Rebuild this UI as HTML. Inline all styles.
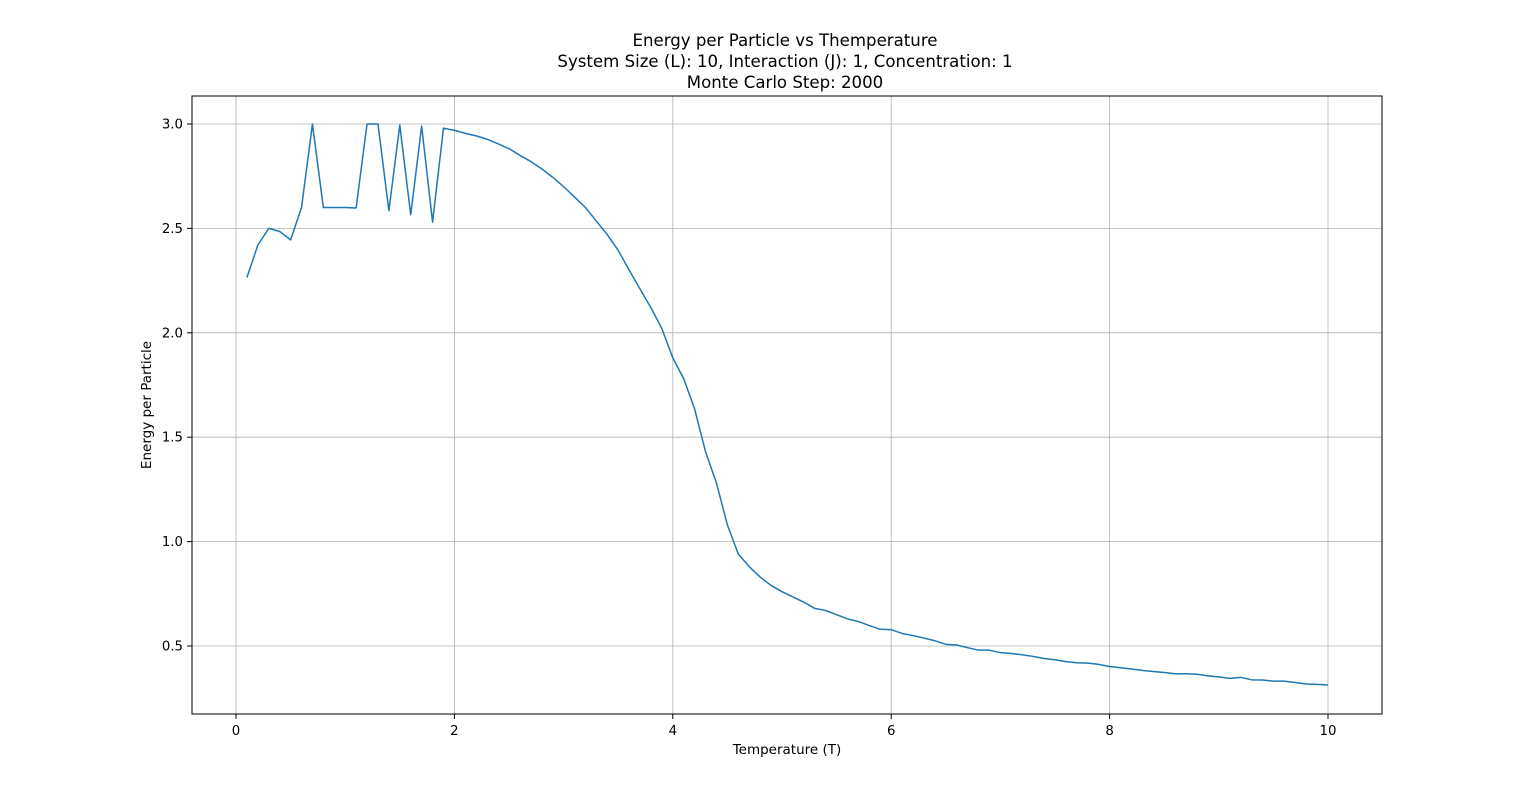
<!DOCTYPE html>
<html><head><meta charset="utf-8"><style>
body{margin:0;background:#fff;}
svg{display:block;font-family:"DejaVu Sans","Liberation Sans",sans-serif;}
</style></head><body>
<svg id="chart" width="1536" height="802" viewBox="0 0 1536 802">
<rect width="1536" height="802" fill="#fff"/>
<g id="title" font-size="16.6" text-anchor="middle" fill="#000">
<text x="785" y="46">Energy per Particle vs Themperature</text>
<text x="785" y="67">System Size (L): 10, Interaction (J): 1, Concentration: 1</text>
<text x="785" y="88">Monte Carlo Step: 2000</text>
</g>
<g id="grid"></g>
<g id="xticks" font-size="13.3" text-anchor="middle"></g>
<g id="yticks" font-size="13.3" text-anchor="end"></g>
<path id="line" fill="none" stroke="#1f77b4" stroke-width="1.5" stroke-linejoin="round"/>
<rect x="192" y="96" width="1190" height="618" fill="none" stroke="#000" stroke-width="1"/>
<text x="787" y="754" font-size="13.5" text-anchor="middle">Temperature (T)</text>
<text transform="translate(151,405) rotate(-90)" font-size="13.5" text-anchor="middle">Energy per Particle</text>
</svg>
<script>
const temps = [];
for (let i = 1; i <= 100; i++) temps.push(i / 10);
const energy = [2.265,2.42,2.50,2.485,2.445,2.60,3.0,2.60,2.60,2.60,
2.598,3.0,3.0,2.585,2.995,2.565,2.99,2.53,2.98,2.97,
2.955,2.943,2.927,2.905,2.882,2.85,2.82,2.785,2.745,2.70,
2.65,2.60,2.535,2.47,2.395,2.30,2.21,2.12,2.02,1.88,
1.78,1.635,1.43,1.28,1.08,0.94,0.88,0.83,0.79,0.76,
0.735,0.71,0.68,0.67,0.65,0.63,0.617,0.598,0.58,0.578,
0.56,0.55,0.538,0.525,0.508,0.505,0.492,0.48,0.48,0.468,
0.464,0.458,0.45,0.44,0.434,0.425,0.42,0.418,0.412,0.402,
0.396,0.39,0.383,0.378,0.373,0.367,0.367,0.365,0.357,0.352,
0.345,0.35,0.338,0.337,0.332,0.332,0.325,0.318,0.316,0.313];
const xTicks = [0,2,4,6,8,10];
const yTicks = [0.5,1.0,1.5,2.0,2.5,3.0];

const NS = 'http://www.w3.org/2000/svg';
const xs = v => 236 + v * 109.2;
const ys = v => 124 + (3 - v) * 208.8;
function mk(tag, attrs, parent) {
  const e = document.createElementNS(NS, tag);
  for (const k in attrs) e.setAttribute(k, attrs[k]);
  parent.appendChild(e);
  return e;
}
const grid = document.getElementById('grid');
const xg = document.getElementById('xticks');
const yg = document.getElementById('yticks');
xTicks.forEach(t => {
  const x = xs(t);
  const gl = mk('line', {x1:x, x2:x, y1:96, y2:714, stroke:'#b0b0b0', 'stroke-width':0.8}, grid);
  
  
  const tk = mk('line', {x1:x, x2:x, y1:714, y2:719, stroke:'#000'}, xg);
  
  
  const tx = mk('text', {x:x, y:735}, xg);
  tx.textContent = String(t);
  
  
});
yTicks.forEach(t => {
  const y = ys(t);
  const gl = mk('line', {x1:192, x2:1382, y1:y, y2:y, stroke:'#b0b0b0', 'stroke-width':0.8}, grid);
  
  
  const tk = mk('line', {x1:187, x2:192, y1:y, y2:y, stroke:'#000'}, yg);
  
  
  const tx = mk('text', {x:183, y:y + 4.5}, yg);
  tx.textContent = t.toFixed(1);
  
  
});
document.getElementById('line').setAttribute('d',
  energy.map((v, i) => (i ? 'L' : 'M') + xs(temps[i]).toFixed(2) + ' ' + ys(v).toFixed(2)).join(' '));
</script>
</body></html>
